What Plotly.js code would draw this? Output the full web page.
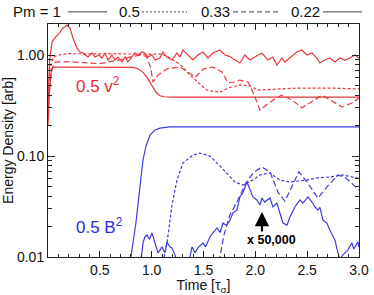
<!DOCTYPE html>
<html>
<head>
<meta charset="utf-8">
<script src="https://cdn.plot.ly/plotly-3.0.1.min.js"></script>
<style>html,body{margin:0;padding:0;background:#fff;}#chart{width:374px;height:295px;}</style>
</head>
<body>
<div id="chart"></div>
<script>
// ---- Data (time in tau_sigma, energy density in arb units) ----
// Kinetic energy 0.5 v^2
const tV_pm1 = [0,0.015,0.04,0.07,0.10,0.145,0.183,0.212,0.241,0.28,0.309,0.338,0.36,0.386,0.424,0.453,0.49,0.521,0.55,0.579,0.617,0.646,0.675,0.714,0.743,0.771,0.80,0.839,0.87,0.906,0.935,0.964,1.003,1.032,1.08,1.109,1.148,1.196,1.244,1.273,1.302,1.35,1.398,1.446,1.495,1.543,1.591,1.659,1.707,1.75,1.803,1.851,1.90,1.948,1.996,2.064,2.122,2.17,2.208,2.257,2.285,2.334,2.401,2.449,2.498,2.546,2.594,2.623,2.671,2.719,2.768,2.816,2.864,2.912,2.96,2.999];
const v2_pm1 = [0.3,0.9,1.35,1.5,1.6,1.85,1.98,1.85,1.47,1.17,1.07,1.047,1.0,0.955,1.047,0.955,1.0,0.934,1.047,0.892,1.0,0.892,0.955,0.852,0.955,0.852,0.93,1.047,1.0,1.07,1.047,0.955,1.0,0.892,0.934,1.07,0.955,0.892,1.047,0.955,1.12,1.0,0.892,1.0,1.07,0.934,1.047,1.12,1.0,0.97,0.892,0.833,1.0,0.892,0.955,1.047,0.892,0.955,0.796,0.934,0.852,0.934,1.07,1.12,1.0,1.047,0.934,0.833,0.892,0.934,0.852,0.934,0.892,0.934,1.0,0.934];

const tV_pm05 = [0,0.02,0.05,0.1,0.2,0.4,0.6,0.8,1.0,1.1,1.176,1.273,1.369,1.466,1.53,1.6,1.66,1.736,1.85,1.948,2.025,2.237,2.43,2.72,3.0];
const v2_pm05 = [0.35,0.75,0.95,1.0,1.03,1.03,1.03,1.03,1.03,1.02,0.934,0.81,0.634,0.516,0.45,0.435,0.43,0.471,0.505,0.493,0.45,0.461,0.471,0.471,0.461];

const tV_pm033 = [0,0.02,0.04,0.07,0.2,0.4,0.5,0.6,0.7,0.8,0.9,0.95,0.99,1.013,1.06,1.15,1.273,1.35,1.42,1.5,1.59,1.678,1.736,1.80,1.85,1.93,1.99,2.044,2.14,2.25,2.353,2.449,2.546,2.642,2.739,2.835,2.932,3.0];
const v2_pm033 = [0.25,0.55,0.75,0.85,0.86,0.84,0.82,0.86,0.90,0.96,1.0,0.97,0.75,0.54,0.63,0.73,0.76,0.68,0.60,0.73,0.76,0.68,0.53,0.54,0.565,0.54,0.40,0.285,0.34,0.40,0.36,0.30,0.35,0.40,0.35,0.306,0.335,0.375];

const tV_pm022 = [0,0.015,0.03,0.05,0.1,0.3,0.6,0.82,0.87,0.92,0.96,1.0,1.04,1.08,1.12,1.2,1.5,2.0,2.5,3.0];
const v2_pm022 = [0.2,0.45,0.68,0.76,0.76,0.76,0.76,0.755,0.73,0.67,0.59,0.50,0.43,0.395,0.386,0.383,0.383,0.383,0.383,0.383];

// Magnetic energy 0.5 B^2
const tB_pm022 = [0.79,0.80,0.849,0.887,0.916,0.945,0.984,1.032,1.08,1.176,1.5,2.0,2.5,3.0];
const b2_pm022 = [0.009,0.01,0.0222,0.0493,0.091,0.125,0.161,0.181,0.189,0.194,0.194,0.194,0.194,0.194];

const tB_pm05 = [1.119,1.148,1.196,1.244,1.302,1.398,1.466,1.562,1.678,1.803,1.88,1.977,2.044,2.141,2.237,2.334,2.498,2.594,2.719,2.845,2.98,3.0];
const b2_pm05 = [0.01,0.0138,0.0327,0.0578,0.0853,0.102,0.107,0.10,0.076,0.0553,0.0516,0.0578,0.0649,0.0679,0.0578,0.0553,0.0578,0.0606,0.062,0.0649,0.0606,0.0600];

const tB_pm033 = [1.64,1.659,1.697,1.755,1.832,1.909,1.986,2.064,2.141,2.218,2.285,2.353,2.42,2.498,2.604,2.70,2.797,2.874,3.0];
const b2_pm033 = [0.009,0.01,0.0165,0.0261,0.0367,0.054,0.0695,0.0778,0.0695,0.044,0.0358,0.0493,0.0695,0.0553,0.0384,0.0505,0.0649,0.0606,0.0461];

// Pm = 1 magnetic energy, multiplied by 50,000
const tB_pm1 = [0.88,0.906,0.916,0.935,0.955,0.98,1.003,1.032,1.061,1.08,1.099,1.128,1.148,1.176,1.196,1.225,1.25,1.30,1.35,1.389,1.418,1.446,1.495,1.52,1.562,1.591,1.63,1.66,1.688,1.72,1.755,1.784,1.823,1.851,1.88,1.919,1.948,1.977,2.015,2.044,2.064,2.09,2.141,2.17,2.208,2.237,2.266,2.305,2.334,2.382,2.43,2.459,2.507,2.546,2.575,2.604,2.623,2.652,2.69,2.719,2.768,2.797,2.816,2.845,2.864,2.893,2.932,2.95,2.989,3.0];
const b2_pm1 = [0.008,0.011,0.0138,0.0158,0.0165,0.0150,0.0173,0.0141,0.011,0.0117,0.0126,0.011,0.0141,0.0126,0.0123,0.0105,0.008,0.007,0.008,0.0126,0.011,0.0123,0.0138,0.0126,0.0158,0.0173,0.0194,0.0175,0.0217,0.0205,0.0232,0.0273,0.0292,0.0393,0.043,0.0553,0.0461,0.0393,0.0367,0.0327,0.0384,0.035,0.0384,0.0313,0.0342,0.0273,0.0217,0.0207,0.0249,0.0313,0.0367,0.0342,0.0393,0.035,0.0313,0.0292,0.031,0.0232,0.0217,0.0185,0.0147,0.011,0.0095,0.0105,0.011,0.0117,0.0138,0.012,0.0141,0.0125];

// Axis ticks
const xTickVals = [0.5,1.0,1.5,2.0,2.5,3.0];
const xTickText = ['0.5','1.0','1.5','2.0','2.5','3.0'];
const yTickVals = [0.01,0.1,1];
const yTickText = ['0.01','0.10','1.00'];
const yMinorVals = [0.02,0.03,0.04,0.05,0.06,0.07,0.08,0.09,0.2,0.3,0.4,0.5,0.6,0.7,0.8,0.9,2];

// Legend labels
const pmLabels = ['Pm = 1','0.5','0.33','0.22'];

const RED = '#e8383a';
const BLUE = '#3c3ce0';
const SHORT = '3px,2px';
const LONG = '6px,3px';

function tr(x, y, color, dash) {
  return {x: x, y: y, type: 'scatter', mode: 'lines',
          line: {color: color, width: 1.2, dash: dash || 'solid'},
          hoverinfo: 'skip', showlegend: false, cliponaxis: true};
}

const data = [
  tr(tV_pm022, v2_pm022, RED),
  tr(tV_pm033, v2_pm033, RED, LONG),
  tr(tV_pm05, v2_pm05, RED, SHORT),
  tr(tV_pm1, v2_pm1, RED),
  tr(tB_pm022, b2_pm022, BLUE),
  tr(tB_pm05, b2_pm05, BLUE, SHORT),
  tr(tB_pm033, b2_pm033, BLUE, LONG),
  tr(tB_pm1, b2_pm1, BLUE)
];

const FONT = 'Liberation Sans, Arial, Helvetica, sans-serif';
const legY = 1.055;
const layout = {
  width: 374, height: 295,
  margin: {l: 48, r: 15, t: 24, b: 38},
  paper_bgcolor: '#fff', plot_bgcolor: '#fff',
  font: {family: FONT, size: 14, color: '#111'},
  showlegend: false,
  xaxis: {
    range: [0, 3], showgrid: false, zeroline: false,
    showline: true, linecolor: '#222', linewidth: 1, mirror: 'ticks',
    ticks: 'inside', ticklen: 6, tickcolor: '#222',
    tickvals: xTickVals, ticktext: xTickText,
    tickfont: {size: 14, family: FONT, color: '#111'},
    minor: {dtick: 0.1, ticks: 'inside', ticklen: 3, tickcolor: '#222'},
    title: {text: 'Time [τ<sub>σ</sub>]', font: {size: 14, family: FONT}, standoff: 2}
  },
  yaxis: {
    type: 'log', range: [-2, 0.307], showgrid: false, zeroline: false,
    showline: true, linecolor: '#222', linewidth: 1, mirror: 'ticks',
    ticks: 'inside', ticklen: 7, tickcolor: '#222',
    tickvals: yTickVals, ticktext: yTickText,
    tickfont: {size: 14, family: FONT, color: '#111'},
    minor: {tickmode: 'array', tickvals: yMinorVals, ticks: 'inside', ticklen: 4, tickcolor: '#222'},
    title: {text: 'Energy Density [arb]', font: {size: 14, family: FONT}, standoff: 4}
  },
  annotations: [
    {xref: 'x', yref: 'y', x: 0.25, y: -0.297, xanchor: 'left', yanchor: 'middle',
     text: '0.5 v<sup>2</sup>', showarrow: false, font: {size: 17, color: '#e82a2e', family: FONT}},
    {xref: 'x', yref: 'y', x: 0.25, y: -1.693, xanchor: 'left', yanchor: 'middle',
     text: '0.5 B<sup>2</sup>', showarrow: false, font: {size: 17, color: '#2b2be0', family: FONT}},
    {xref: 'x', yref: 'y', x: 2.16, y: -1.832, xanchor: 'center', yanchor: 'middle',
     text: '<b>x 50,000</b>', showarrow: false, font: {size: 12.5, color: '#000', family: FONT}},
    {xref: 'x', yref: 'y', x: 2.064, y: -1.554, text: '', showarrow: true,
     ax: 0, ay: 21, arrowhead: 2, arrowsize: 1.3, arrowwidth: 2.2, arrowcolor: '#000', standoff: 0},
    {xref: 'paper', yref: 'paper', x: -0.118, y: legY, xanchor: 'left', yanchor: 'middle',
     text: pmLabels[0], showarrow: false, font: {size: 15, family: FONT}},
    {xref: 'paper', yref: 'paper', x: 0.222, y: legY, xanchor: 'left', yanchor: 'middle',
     text: pmLabels[1], showarrow: false, font: {size: 15, family: FONT}},
    {xref: 'paper', yref: 'paper', x: 0.486, y: legY, xanchor: 'left', yanchor: 'middle',
     text: pmLabels[2], showarrow: false, font: {size: 15, family: FONT}},
    {xref: 'paper', yref: 'paper', x: 0.775, y: legY, xanchor: 'left', yanchor: 'middle',
     text: pmLabels[3], showarrow: false, font: {size: 15, family: FONT}}
  ],
  shapes: [
    {type: 'line', xref: 'paper', yref: 'paper', x0: 0.064, x1: 0.19, y0: legY - 0.003, y1: legY - 0.003, line: {color: '#444', width: 1}},
    {type: 'line', xref: 'paper', yref: 'paper', x0: 0.302, x1: 0.447, y0: legY - 0.003, y1: legY - 0.003, line: {color: '#444', width: 1, dash: '2px,2px'}},
    {type: 'line', xref: 'paper', yref: 'paper', x0: 0.595, x1: 0.74, y0: legY - 0.003, y1: legY - 0.003, line: {color: '#444', width: 1, dash: '5px,3px'}},
    {type: 'line', xref: 'paper', yref: 'paper', x0: 0.884, x1: 1.01, y0: legY - 0.003, y1: legY - 0.003, line: {color: '#444', width: 1}}
  ]
};

Plotly.newPlot('chart', data, layout, {staticPlot: true, displayModeBar: false});
</script>
</body>
</html>
